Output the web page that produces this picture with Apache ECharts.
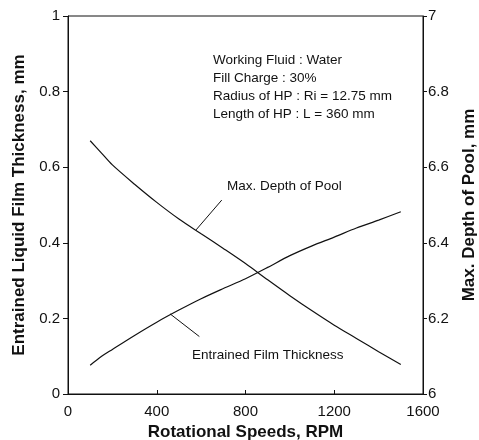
<!DOCTYPE html>
<html>
<head>
<meta charset="utf-8">
<script src="https://cdn.jsdelivr.net/npm/echarts@6/dist/echarts.min.js"></script>
<style>
  html, body { margin: 0; padding: 0; background: #fff; }
  #chart { width: 479px; height: 440px; }
</style>
</head>
<body>
<div id="chart"></div>
<script>
// rotational speed, RPM
const rpm = [100, 150, 200, 300, 400, 500, 600, 700, 800, 900, 1000, 1100, 1200, 1300, 1400, 1500];
// entrained liquid film thickness, mm (left axis)
const filmThickness = [0.076, 0.099, 0.118, 0.155, 0.19, 0.222, 0.252, 0.279, 0.305, 0.335, 0.366, 0.392, 0.415, 0.439, 0.46, 0.482];
// max. depth of pool, mm (right axis)
const poolDepth = [6.67, 6.638, 6.606, 6.555, 6.507, 6.463, 6.424, 6.385, 6.345, 6.302, 6.26, 6.22, 6.182, 6.147, 6.112, 6.078];

const infoLines = [
  'Working Fluid : Water',
  'Fill Charge : 30%',
  'Radius of HP : Ri = 12.75 mm',
  'Length of HP : L = 360 mm',
];

const FONT = '"Liberation Sans", Arial, sans-serif';
const INK = '#111';

const pairs = (ys) => rpm.map((x, i) => [x, ys[i]]);

const leader = (from, to) => ({
  silent: true,
  symbol: ['none', 'none'],
  label: { show: false },
  lineStyle: { color: INK, width: 1, type: 'solid' },
  emphasis: { disabled: true },
  data: [[{ coord: from }, { coord: to }]],
});

const tickLabel = { color: INK, fontFamily: FONT, fontSize: 15 };
const axisTitle = { color: INK, fontFamily: FONT, fontSize: 17, fontWeight: 'bold' };

const chart = echarts.init(document.getElementById('chart'), null, { renderer: 'canvas' });

chart.setOption({
  animation: false,
  backgroundColor: '#fff',
  grid: {
    left: 68, right: 56, top: 16, bottom: 46,
    containLabel: false,
    outerBoundsMode: 'none',
    show: true, borderColor: INK, borderWidth: 1,
  },
  xAxis: {
    type: 'value',
    min: 0, max: 1600, interval: 400,
    name: 'Rotational Speeds, RPM',
    nameLocation: 'middle',
    nameGap: 28,
    nameTextStyle: axisTitle,
    axisLine: { show: true, lineStyle: { color: INK, width: 1 } },
    axisTick: { show: true, inside: true, length: 4, lineStyle: { color: INK } },
    axisLabel: Object.assign({ margin: 10, formatter: (v) => String(v) }, tickLabel),
    splitLine: { show: false },
  },
  yAxis: [
    {
      type: 'value',
      position: 'left',
      min: 0, max: 1, interval: 0.2,
      name: 'Entrained Liquid Film Thickness, mm',
      nameLocation: 'middle',
      nameGap: 40,
      nameTextStyle: axisTitle,
      axisLine: { show: true, lineStyle: { color: INK, width: 1 } },
      axisTick: { show: true, inside: false, length: 5, lineStyle: { color: INK } },
      axisLabel: Object.assign({ margin: 8, formatter: (v) => String(+v.toFixed(1)) }, tickLabel),
      splitLine: { show: false },
    },
    {
      type: 'value',
      position: 'right',
      min: 6, max: 7, interval: 0.2,
      name: 'Max. Depth of Pool, mm',
      nameLocation: 'middle',
      nameGap: 38,
      nameTextStyle: axisTitle,
      axisLine: { show: true, lineStyle: { color: INK, width: 1 } },
      axisTick: { show: true, inside: false, length: 4, lineStyle: { color: INK } },
      axisLabel: Object.assign({ margin: 5, formatter: (v) => String(+v.toFixed(1)) }, tickLabel),
      splitLine: { show: false },
    },
  ],
  series: [
    {
      name: 'Entrained Film Thickness',
      type: 'line',
      yAxisIndex: 0,
      data: pairs(filmThickness),
      smooth: 0.3,
      showSymbol: false,
      lineStyle: { color: INK, width: 1.2 },
      markLine: leader([460, 0.212], [592, 0.152]),
    },
    {
      name: 'Max. Depth of Pool',
      type: 'line',
      yAxisIndex: 1,
      data: pairs(poolDepth),
      smooth: 0.3,
      showSymbol: false,
      lineStyle: { color: INK, width: 1.2 },
      markLine: leader([693, 6.513], [577, 6.434]),
    },
  ],
  graphic: [
    ...infoLines.map((t, i) => ({
      type: 'text',
      left: 213,
      top: 53 + i * 18,
      silent: true,
      style: { text: t, fill: INK, font: `13.5px ${FONT}` },
    })),
    {
      type: 'text', left: 227, top: 179, silent: true,
      style: { text: 'Max. Depth of Pool', fill: INK, font: `13.5px ${FONT}` },
    },
    {
      type: 'text', left: 192, top: 348, silent: true,
      style: { text: 'Entrained Film Thickness', fill: INK, font: `13.5px ${FONT}` },
    },
  ],
});
</script>
</body>
</html>
